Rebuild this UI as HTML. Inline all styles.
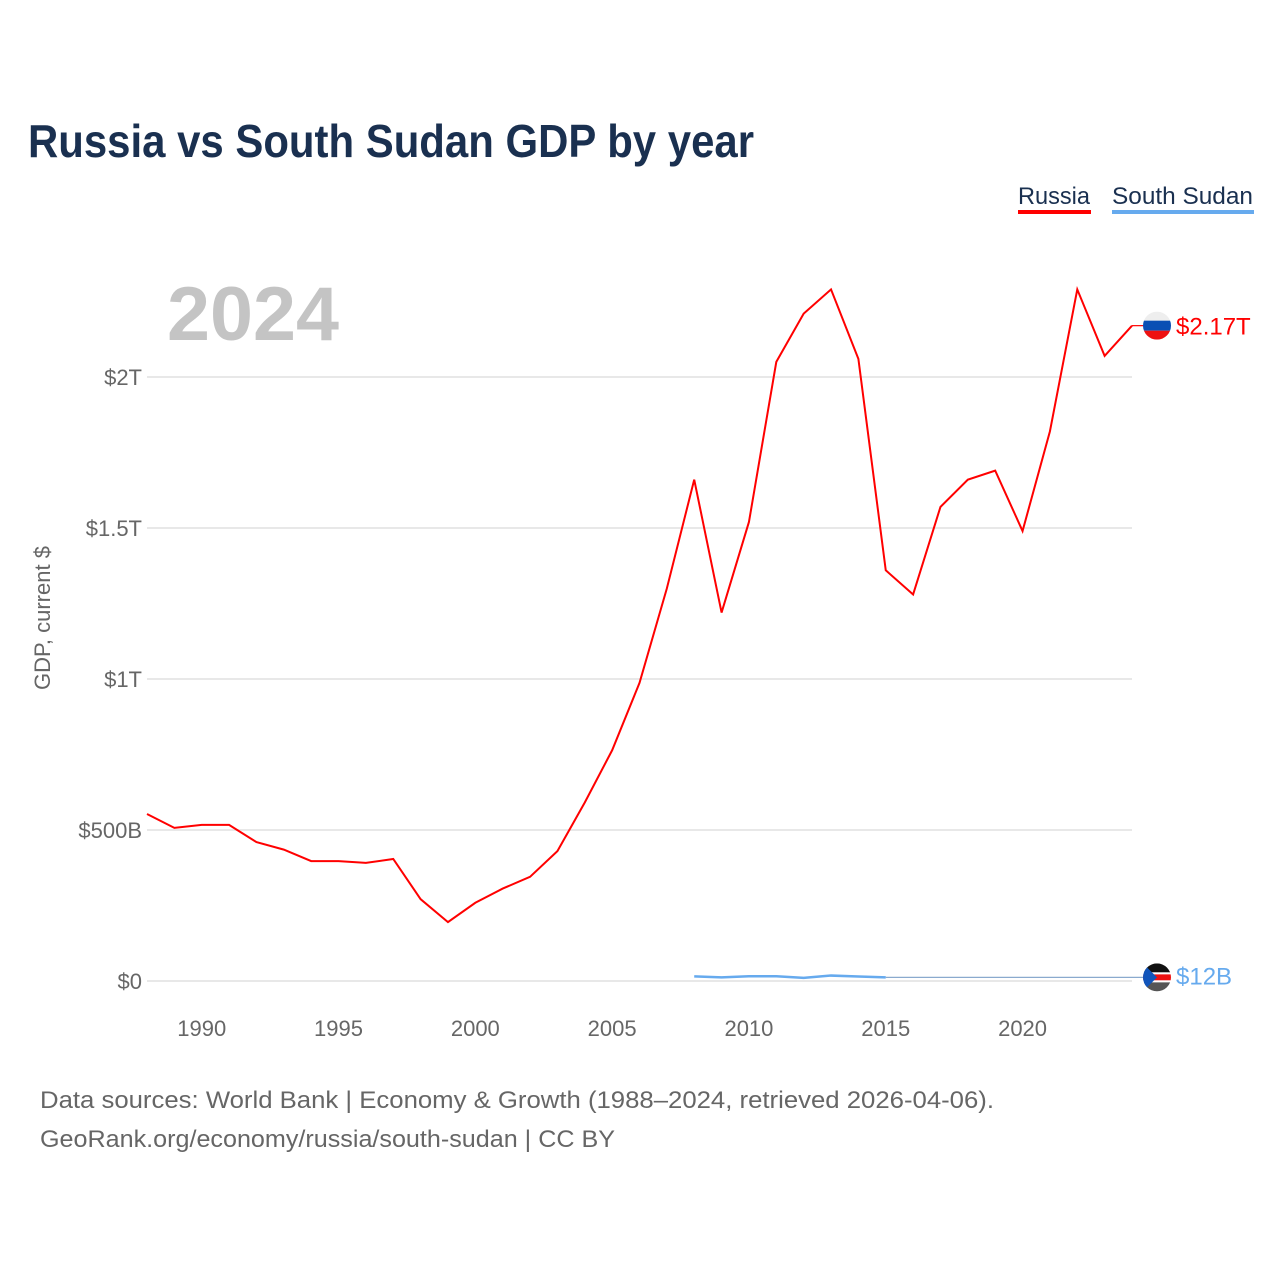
<!DOCTYPE html>
<html><head><meta charset="utf-8"><style>
html,body{margin:0;padding:0;background:#fff;}
svg{display:block;font-family:"Liberation Sans",sans-serif;}
</style></head><body>
<svg id="chart" width="1280" height="1280" viewBox="0 0 1280 1280" xmlns="http://www.w3.org/2000/svg">
<rect width="1280" height="1280" fill="#fff"/>
<text x="28" y="157" font-size="46" font-weight="bold" fill="#1a3050" textLength="726" lengthAdjust="spacingAndGlyphs">Russia vs South Sudan GDP by year</text>
<g>
<g>
<text x="1018" y="204" font-size="24" fill="#1a3050" textLength="72" lengthAdjust="spacingAndGlyphs">Russia</text>
<rect x="1018" y="210" width="73" height="4" fill="#ff0000"/>
</g>
<g>
<text x="1112" y="204" font-size="24" fill="#1a3050" textLength="141" lengthAdjust="spacingAndGlyphs">South Sudan</text>
<rect x="1112" y="210" width="142" height="4" fill="#66aaee"/>
</g>
</g>
<text x="167" y="340" font-size="76" font-weight="bold" fill="#c4c4c4" textLength="172" lengthAdjust="spacingAndGlyphs">2024</text>
<text transform="translate(50,618) rotate(-90)" text-anchor="middle" font-size="22" fill="#666">GDP, current $</text>
<g id="grid"></g>
<g id="yticks"></g>
<g id="xticks"></g>
<g id="series"></g>
<text x="40" y="1108" font-size="24" fill="#666" textLength="954" lengthAdjust="spacingAndGlyphs">Data sources: World Bank | Economy &amp; Growth (1988–2024, retrieved 2026-04-06).</text>
<text x="40" y="1147" font-size="24" fill="#666" textLength="575" lengthAdjust="spacingAndGlyphs">GeoRank.org/economy/russia/south-sudan | CC BY</text>
</svg>
<script>
const years = [1988,1989,1990,1991,1992,1993,1994,1995,1996,1997,1998,1999,2000,2001,2002,2003,2004,2005,2006,2007,2008,2009,2010,2011,2012,2013,2014,2015,2016,2017,2018,2019,2020,2021,2022,2023,2024];
const russia = [0.553,0.507,0.517,0.517,0.460,0.435,0.397,0.397,0.391,0.404,0.271,0.195,0.259,0.306,0.345,0.430,0.591,0.764,0.987,1.30,1.66,1.22,1.52,2.05,2.21,2.29,2.06,1.36,1.28,1.57,1.66,1.69,1.49,1.82,2.29,2.07,2.17];
const ssYears = [2008,2009,2010,2011,2012,2013,2014,2015];
const southSudan = [0.0155,0.012,0.0157,0.0158,0.0104,0.018,0.015,0.012];
const ssLast = 0.012;
const yTicks = [0,0.5,1,1.5,2];
const yTickLabels = ["$0","$500B","$1T","$1.5T","$2T"];
const xTicks = [1990,1995,2000,2005,2010,2015,2020];

const NS="http://www.w3.org/2000/svg";
const x = yr => 147 + (yr-1988)*(1132-147)/36;
const y = v => 981 - v*302;
function mk(tag, attrs, parent){const e=document.createElementNS(NS,tag);for(const k in attrs)e.setAttribute(k,attrs[k]);parent.appendChild(e);return e;}
const grid=document.getElementById('grid'), yt=document.getElementById('yticks'), xt=document.getElementById('xticks'), s=document.getElementById('series');
yTicks.forEach((t,i)=>{
  const l=mk('line',{x1:147,x2:1132,y1:y(t),y2:y(t),stroke:'#e8e8e8','stroke-width':2},grid);
  
  
  const tx=mk('text',{x:142,y:y(t)+8,'text-anchor':'end','font-size':22,fill:'#666'},yt);
  tx.textContent=yTickLabels[i];
  
  
});
xTicks.forEach(t=>{
  const tx=mk('text',{x:x(t),y:1036,'text-anchor':'middle','font-size':22,fill:'#666'},xt);
  tx.textContent=t;
  
  
});
// south sudan
const ssEndX=x(ssYears[ssYears.length-1]);
const conn=mk('line',{x1:ssEndX,y1:y(ssLast),x2:1150,y2:y(ssLast),stroke:'#8aaace','stroke-width':1.2},s);


const ssp=mk('polyline',{points:ssYears.map((yr,i)=>x(yr)+','+y(southSudan[i])).join(' '),fill:'none',stroke:'#66aaee','stroke-width':2.5},s);


// russia
const rp=mk('polyline',{points:years.map((yr,i)=>x(yr)+','+y(russia[i])).join(' '),fill:'none',stroke:'#ff0000','stroke-width':2},s);


const rc=mk('line',{x1:1132,y1:y(russia[russia.length-1]),x2:1145,y2:y(russia[russia.length-1]),stroke:'#ff0000','stroke-width':1.2},s);


// flags
function flag(cy, stripes, name){
  const g=mk('g',{},s);
  
  
  const id=name+'-clip';
  const cp=mk('clipPath',{id:id},g); mk('circle',{cx:1157,cy:cy,r:14},cp);
  const gg=mk('g',{'clip-path':'url(#'+id+')'},g);
  let yy=cy-14;
  stripes.forEach(([h,c])=>{mk('rect',{x:1143,y:yy,width:28,height:h,fill:c},gg);yy+=h;});
  return gg;
}
const ry=y(russia[russia.length-1]);
flag(ry,[[9,'#eeeeee'],[10,'#0a4fb4'],[9,'#ee1111']],'russia-flag');
const sy=y(ssLast);
const sf=flag(sy,[[9,'#111'],[2,'#fff'],[6,'#ee1111'],[2,'#fff'],[9,'#555']],'south-sudan-flag');
mk('polygon',{points:`1143,${sy-14} 1157,${sy} 1143,${sy+14}`,fill:'#1155bb'},sf);
const rl=mk('text',{x:1176,y:ry+9,'font-size':24,fill:'#ff0000'},s);
rl.textContent='$2.17T';


const sl=mk('text',{x:1176,y:sy+7,'font-size':24,fill:'#66aaee'},s);
sl.textContent='$12B';


</script>
</body></html>
